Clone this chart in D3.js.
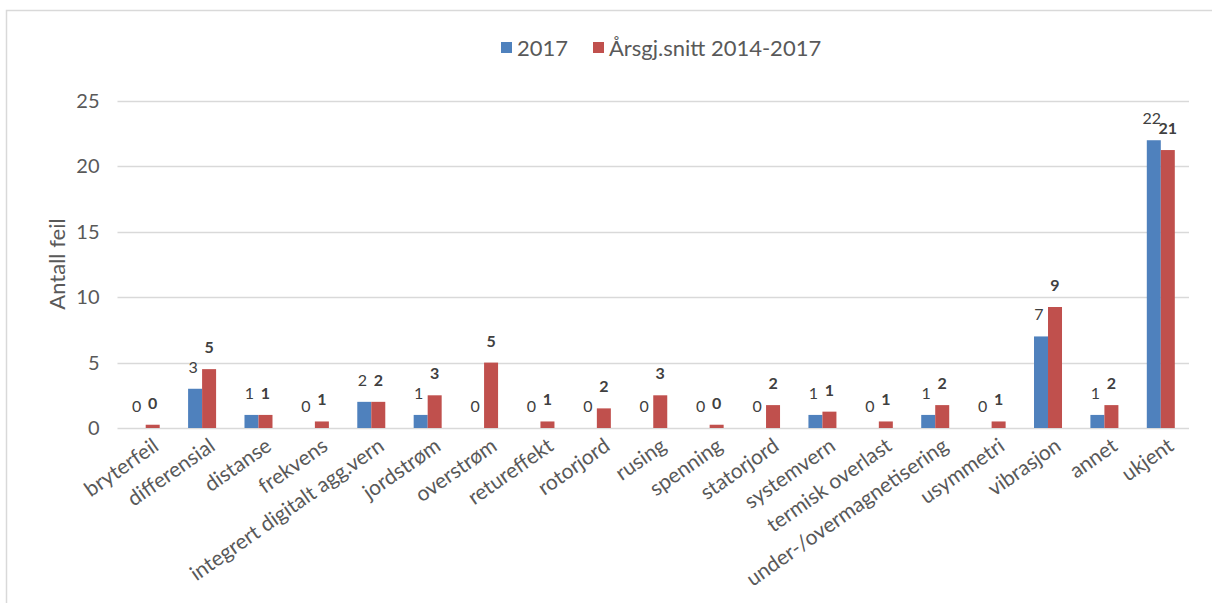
<!DOCTYPE html>
<html>
<head>
<meta charset="utf-8">
<script src="https://cdn.jsdelivr.net/npm/d3@7"></script>
<style>
  html, body { margin: 0; padding: 0; background: #fff; }
  svg { display: block; font-family: Lato, "Liberation Sans", sans-serif; }
</style>
</head>
<body>
<svg id="chart" width="1212" height="603"></svg>
<script>
// Fault causes
const categories = [
  "bryterfeil", "differensial", "distanse", "frekvens",
  "integrert digitalt agg.vern", "jordstrøm", "overstrøm", "retureffekt",
  "rotorjord", "rusing", "spenning", "statorjord", "systemvern",
  "termisk overlast", "under-/overmagnetisering", "usymmetri",
  "vibrasjon", "annet", "ukjent"
];
// Number of faults in 2017
const values2017 = [0, 3, 1, 0, 2, 1, 0, 0, 0, 0, 0, 0, 1, 0, 1, 0, 7, 1, 22];
// Yearly average 2014-2017
const valuesAvg = [0.25, 4.5, 1, 0.5, 2, 2.5, 5, 0.5, 1.5, 2.5, 0.25, 1.75, 1.25, 0.5, 1.75, 0.5, 9.25, 1.75, 21.25];
const seriesNames = ["2017", "Årsgj.snitt 2014-2017"];
const yTicks = [0, 5, 10, 15, 20, 25];
const yTitle = "Antall feil";

const colors = ["#4F81BD", "#C0504D"];
const textColor = "#595959";

const svg = d3.select("#chart");

// Chart area frame
svg.append("rect")
  .attr("x", 6.5).attr("y", 10.5)
  .attr("width", 1230).attr("height", 620)
  .attr("fill", "none").attr("stroke", "#d9d9d9").attr("stroke-width", 1.5);

const plot = { left: 117.5, right: 1189, top: 101, bottom: 428 };

const x = d3.scaleBand()
  .domain(categories)
  .range([plot.left, plot.right])
  .paddingInner(0).paddingOuter(0);

const barW = 14;
const x1 = d3.scaleBand().domain([0, 1]).range([-barW, barW]);

const y = d3.scaleLinear().domain([0, 25]).range([plot.bottom, plot.top]);

// Gridlines
svg.append("g")
  .selectAll("line")
  .data(yTicks)
  .join("line")
  .attr("x1", plot.left).attr("x2", plot.right)
  .attr("y1", d => Math.round(y(d)) + 0.5).attr("y2", d => Math.round(y(d)) + 0.5)
  .attr("stroke", "#d9d9d9").attr("stroke-width", 1.5);

// Y axis labels
const yAxis = d3.axisLeft(y).tickValues(yTicks).tickSize(0).tickPadding(0);
const yG = svg.append("g")
  .attr("transform", `translate(${plot.left - 18},0)`)
  .call(yAxis);
yG.select(".domain").remove();
yG.selectAll("text")
  .attr("fill", textColor)
  .style("font-size", "20px")
  .style("font-family", "Lato, sans-serif");

// Y axis title
svg.append("text")
  .attr("transform", `translate(65,264) rotate(-90)`)
  .attr("text-anchor", "middle")
  .attr("fill", textColor)
  .style("font-size", "22px")
  .text(yTitle);

// Bars
const series = [values2017, valuesAvg];
series.forEach((vals, si) => {
  svg.append("g")
    .selectAll("rect")
    .data(vals)
    .join("rect")
    .attr("x", (d, i) => x(categories[i]) + x.bandwidth() / 2 + x1(si))
    .attr("width", x1.bandwidth())
    .attr("y", d => y(d))
    .attr("height", d => y(0) - y(d))
    .attr("fill", colors[si]);
});

// Value labels (rounded)
series.forEach((vals, si) => {
  svg.append("g")
    .selectAll("text")
    .data(vals)
    .join("text")
    .attr("x", (d, i) => x(categories[i]) + x.bandwidth() / 2 + x1(si) + x1.bandwidth() / 2 - (si === 0 ? 2 : 0))
    .attr("y", d => y(d) - 16)
    .attr("text-anchor", "middle")
    .attr("fill", "#404040")
    .style("font-size", "16px")
    .style("font-weight", si === 1 ? "bold" : "normal")
    .text(d => Math.round(d));
});

// Category labels
svg.append("g")
  .selectAll("text")
  .data(categories)
  .join("text")
  .attr("transform", d => `translate(${x(d) + x.bandwidth() / 2 + 6},${plot.bottom + 9}) rotate(-35)`)
  .attr("text-anchor", "end")
  .attr("dy", "0.7em")
  .attr("fill", textColor)
  .style("font-size", "21px")
  .text(d => d);

// Legend
const legendItems = [
  { name: seriesNames[0], color: colors[0], x: 501 },
  { name: seriesNames[1], color: colors[1], x: 593 }
];
const lg = svg.append("g");
legendItems.forEach(it => {
  lg.append("rect")
    .attr("x", it.x).attr("y", 42)
    .attr("width", 11).attr("height", 11)
    .attr("fill", it.color);
  lg.append("text")
    .attr("x", it.x + 16).attr("y", 56)
    .attr("fill", textColor)
    .style("font-size", "22px")
    .text(it.name);
});
</script>
</body>
</html>
